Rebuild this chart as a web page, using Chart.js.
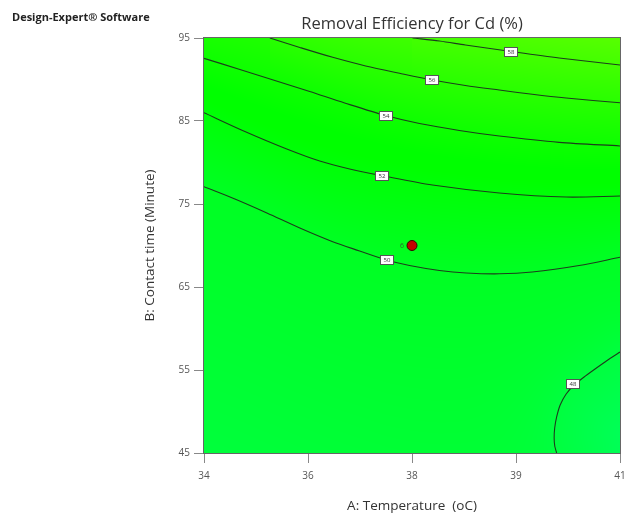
<!DOCTYPE html>
<html><head><meta charset="utf-8">
<script src="https://cdn.jsdelivr.net/npm/chart.js@4.4.1/dist/chart.umd.min.js"></script>
<style>
html,body{margin:0;padding:0;background:#fff;}
#wrap{position:relative;width:626px;height:514px;}
#brand{position:absolute;left:12px;top:9px;font:bold 11px 'Open Sans',sans-serif;color:#222;white-space:nowrap;}
</style></head><body>
<div id="wrap"><canvas id="c" width="626" height="514"></canvas><div id="brand">Design-Expert® Software</div></div>
<script>
// ---- data ----
const xTickValues = [34, 35.75, 37.5, 39.25, 41];
const xTickLabels = ['34', '36', '38', '39', '41'];
const yTickValues = [45, 55, 65, 75, 85, 95];
const contourLevels = [58, 56, 54, 52, 50, 48];

const c58x = [37.508, 37.962, 38.398, 39.170, 39.976, 41];
const c58y = [95, 94.64, 94.16, 93.37, 92.59, 91.75];
const c56x = [35.108, 35.612, 36.166, 36.720, 37.290, 37.844, 38.398, 38.969, 39.523, 40.094, 41];
const c56y = [95, 93.86, 92.67, 91.63, 90.75, 89.94, 89.28, 88.73, 88.22, 87.77, 87.20];
const c54x = [34, 34.604, 35.192, 35.779, 36.367, 37.055, 37.626, 38.297, 38.969, 39.976, 41];
const c54y = [92.55, 91.21, 89.88, 88.55, 87.17, 85.66, 84.70, 83.86, 83.19, 82.43, 81.99];
const c52x = [34, 34.688, 35.393, 35.947, 36.451, 36.988, 37.844, 38.969, 40.094, 41];
const c52y = [86.00, 83.74, 81.63, 80.18, 79.22, 78.43, 77.29, 76.33, 75.84, 75.96];
const c50x = [34, 34.520, 35.058, 35.612, 36.166, 36.619, 37.072, 37.458, 37.962, 38.415, 38.969, 39.523, 40.312, 41];
const c50y = [77.08, 75.60, 73.92, 72.11, 70.46, 69.34, 68.25, 67.59, 66.99, 66.69, 66.59, 66.81, 67.59, 68.58];
const c48x = [41, 40.782, 40.580, 40.396, 40.228, 40.094, 39.993, 39.934, 39.901, 39.892, 39.902, 39.934];
const c48y = [57.17, 56.15, 55.12, 54.16, 53.19, 52.11, 50.78, 49.34, 48.01, 46.81, 45.84, 45];

const labelX = [39.170, 37.844, 37.055, 36.988, 37.072, 40.211];
const labelY = [93.37, 89.94, 85.60, 78.43, 68.20, 53.31];

const designX = [37.5];
const designY = [70];
const designCount = ['6'];

// ---- build ----
const cx = [c58x, c56x, c54x, c52x, c50x, c48x];
const cy = [c58y, c56y, c54y, c52y, c50y, c48y];
const contours = contourLevels.map((lv, i) => ({level: lv, xs: cx[i], ys: cy[i]}));

Chart.defaults.font.family = "'Open Sans', sans-serif";

function distSeg(px, py, x0, y0, x1, y1) {
  const dx = x1 - x0, dy = y1 - y0;
  const l2 = dx * dx + dy * dy;
  let t = l2 ? ((px - x0) * dx + (py - y0) * dy) / l2 : 0;
  t = Math.max(0, Math.min(1, t));
  const ex = x0 + t * dx - px, ey = y0 + t * dy - py;
  return Math.sqrt(ex * ex + ey * ey);
}
function distPoly(px, py, pts) {
  let d = Infinity;
  for (let k = 0; k < pts.length - 1; k++) d = Math.min(d, distSeg(px, py, pts[k][0], pts[k][1], pts[k + 1][0], pts[k + 1][1]));
  return d;
}
function inPoly(px, py, poly) {
  let ins = false;
  for (let i = 0, j = poly.length - 1; i < poly.length; j = i++) {
    const [xi, yi] = poly[i], [xj, yj] = poly[j];
    if (((yi > py) !== (yj > py)) && (px < (xj - xi) * (py - yi) / (yj - yi) + xi)) ins = !ins;
  }
  return ins;
}

const bgPlugin = {
  id: 'bg',
  beforeDatasetsDraw(chart) {
    const {ctx, chartArea: a, scales: {x, y}} = chart;
    const L = Math.round(a.left), T = Math.round(a.top);
    const W = Math.round(a.right) - L, H = Math.round(a.bottom) - T;
    const lines = contours.map(c => ({level: c.level,
      pts: c.xs.map((v, i) => [x.getPixelForValue(v) - L, y.getPixelForValue(c.ys[i]) - T])}));
    const main = lines.filter(l => l.level !== 48);
    const low = lines.find(l => l.level === 48);
    const poly = low.pts.concat([[W + 2, H + 2]]);
    const off = document.createElement('canvas');
    off.width = W; off.height = H;
    const octx = off.getContext('2d');
    const img = octx.createImageData(W, H);
    const d = img.data;
    for (let i = 0; i < W; i++) {
      const X = i + 0.5;
      const cr = [];
      for (const l of main) {
        const p = l.pts;
        for (let k = 0; k < p.length - 1; k++) {
          const [x0, y0] = p[k], [x1, y1] = p[k + 1];
          if (X >= Math.min(x0, x1) && X <= Math.max(x0, x1) && x1 !== x0) {
            cr.push([y0 + (y1 - y0) * (X - x0) / (x1 - x0), l.level]); break;
          }
        }
      }
      cr.sort((p, q) => p[0] - q[0]);
      for (let j = 0; j < H; j++) {
        const Y = j + 0.5;
        let v = 50;
        const n = cr.length;
        if (n) {
          if (Y <= cr[0][0]) {
            if (n > 1) { const s = (cr[0][1] - cr[1][1]) / (cr[1][0] - cr[0][0]); v = cr[0][1] + (cr[0][0] - Y) * s; }
            else v = cr[0][1];
          } else if (Y >= cr[n - 1][0]) {
            v = cr[n - 1][1] - (Y - cr[n - 1][0]) / 150;
          } else {
            for (let k = 0; k < n - 1; k++) {
              if (Y >= cr[k][0] && Y <= cr[k + 1][0]) {
                v = cr[k][1] + (cr[k + 1][1] - cr[k][1]) * (Y - cr[k][0]) / (cr[k + 1][0] - cr[k][0]); break;
              }
            }
          }
        }
        const dd = distPoly(X, Y, low.pts);
        if (inPoly(X, Y, poly)) v = 48 - dd / 40;
        else { const w = Math.exp(-dd / 30); v = v * (1 - w) + 48 * w; }
        const r = Math.max(0, Math.min(255, (v - 53) * 13.5));
        const b = Math.max(0, Math.min(255, (52.5 - v) * 14));
        const o = (j * W + i) * 4;
        d[o] = r; d[o + 1] = 255; d[o + 2] = b; d[o + 3] = 255;
      }
    }
    octx.putImageData(img, 0, 0);
    ctx.drawImage(off, L, T);
  }
};

const overlayPlugin = {
  id: 'overlay',
  afterDatasetsDraw(chart) {
    const {ctx, chartArea: a, scales: {x, y}} = chart;
    ctx.save();
    ctx.font = "6px 'Open Sans', sans-serif";
    ctx.textAlign = 'center';
    ctx.textBaseline = 'middle';
    labelX.forEach((lx, i) => {
      const px = Math.round(x.getPixelForValue(lx)), py = Math.round(y.getPixelForValue(labelY[i]));
      ctx.fillStyle = '#ffffff';
      ctx.fillRect(px - 6, py - 4, 12, 8);
      ctx.strokeStyle = '#555';
      ctx.lineWidth = 1;
      ctx.strokeRect(px - 6.5, py - 4.5, 13, 9);
      ctx.fillStyle = '#333';
      ctx.fillText(String(contourLevels[i]), px, py + 0.5);
    });
    ctx.font = "7px 'Open Sans', sans-serif";
    ctx.fillStyle = '#2e6b2e';
    ctx.textAlign = 'right';
    designX.forEach((dx, i) => {
      const px = x.getPixelForValue(dx), py = y.getPixelForValue(designY[i]);
      ctx.fillText(designCount[i], px - 8, py);
    });
    ctx.strokeStyle = '#666';
    ctx.lineWidth = 1;
    ctx.strokeRect(Math.round(a.left) - 0.5, Math.round(a.top) - 0.5, Math.round(a.right) - Math.round(a.left) + 1, Math.round(a.bottom) - Math.round(a.top) + 1);
    ctx.restore();
  }
};

const datasets = contours.map(c => ({
  label: 'Cd ' + c.level,
  data: c.xs.map((v, i) => ({x: v, y: c.ys[i]})),
  showLine: true,
  borderColor: '#1c3d1c',
  borderWidth: 1.1,
  pointRadius: 0,
  tension: c.level === 48 ? 0.15 : 0.3,
  fill: false
}));
datasets.push({
  label: 'Design point',
  data: designX.map((v, i) => ({x: v, y: designY[i]})),
  showLine: false,
  pointRadius: 5,
  pointBackgroundColor: '#c40000',
  pointBorderColor: '#3a0000',
  pointBorderWidth: 1
});

new Chart(document.getElementById('c'), {
  type: 'scatter',
  data: {datasets},
  plugins: [bgPlugin, overlayPlugin],
  options: {
    responsive: false,
    animation: false,
    layout: {padding: {left: 140, top: 14, right: 5, bottom: 0}},
    plugins: {
      legend: {display: false},
      tooltip: {enabled: false},
      title: {
        display: true,
        text: 'Removal Efficiency for Cd (%)',
        fullSize: false,
        color: '#333',
        font: {size: 16.5, weight: 'normal'},
        padding: {top: 0, bottom: 4.2}
      }
    },
    scales: {
      x: {
        type: 'linear', min: 34, max: 41,
        afterBuildTicks: s => { s.ticks = xTickValues.map(v => ({value: v})); },
        afterFit: s => { s.height = 61; s.paddingRight = 0; s.paddingLeft = 0; },
        ticks: {
          callback: (v, i) => xTickLabels[i],
          color: '#555', font: {size: 10}, padding: 7, maxRotation: 0
        },
        grid: {drawOnChartArea: false, tickLength: 10, color: '#888'},
        border: {display: false},
        title: {display: true, text: 'A: Temperature  (oC)', color: '#333', font: {size: 13.5}, padding: {top: 0, bottom: 0}}
      },
      y: {
        type: 'linear', min: 45, max: 95,
        afterBuildTicks: s => { s.ticks = yTickValues.map(v => ({value: v})); },
        afterFit: s => { s.width = 64; s.paddingTop = 0; s.paddingBottom = 0; },
        ticks: {
          callback: (v) => String(v),
          color: '#555', font: {size: 10}, padding: 4
        },
        grid: {drawOnChartArea: false, tickLength: 10, color: '#888'},
        border: {display: false},
        title: {display: true, text: 'B: Contact time (Minute)', color: '#333', font: {size: 13.5}, padding: {top: 2, bottom: 0}}
      }
    }
  }
});
</script>
</body></html>
